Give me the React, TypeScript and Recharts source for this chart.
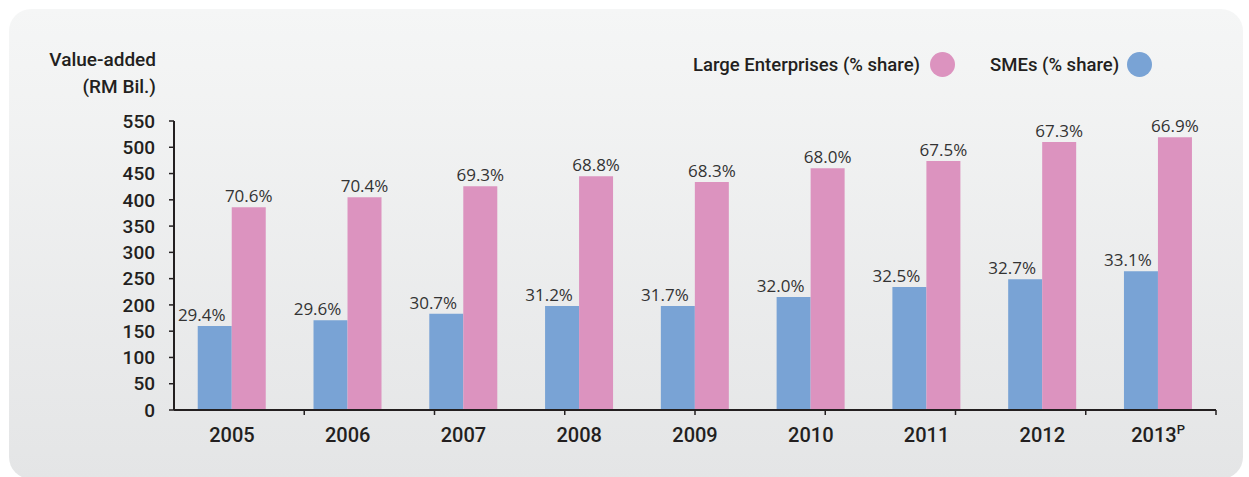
import React from 'react';
import { BarChart, Bar, XAxis, YAxis, LabelList } from 'recharts';

const years = ['2005', '2006', '2007', '2008', '2009', '2010', '2011', '2012', '2013'];
const provisionalYears = ['2013'];
const smeValues = [160, 171, 183, 198, 198, 215, 234, 249, 264];
const largeValues = [386, 405, 426, 445, 434, 460, 474, 510, 519];
const smeShares = [29.4, 29.6, 30.7, 31.2, 31.7, 32.0, 32.5, 32.7, 33.1];
const largeShares = [70.6, 70.4, 69.3, 68.8, 68.3, 68.0, 67.5, 67.3, 66.9];
const yTicks = [0, 50, 100, 150, 200, 250, 300, 350, 400, 450, 500, 550];
const axisTitle = ['Value-added', '(RM Bil.)'];
const legendLarge = 'Large Enterprises (% share)';
const legendSme = 'SMEs (% share)';

const data = years.map((y, i) => ({
  year: y,
  sme: smeValues[i],
  large: largeValues[i],
  smeShare: smeShares[i],
  largeShare: largeShares[i],
}));
const boundaryTicks = years.slice(1).map((_, i) => i + 1);

const BLUE = '#79a3d5';
const PINK = '#dc93bf';
const INK = '#231f20';
const AXIS_FONT = 'Roboto, "DejaVu Sans", sans-serif';
const LABEL_FONT = '"Open Sans", "Noto Sans", sans-serif';

const YearTick = (props: any) => {
  const { x, y, payload } = props;
  const v = String(payload.value);
  const sup = provisionalYears.includes(v);
  return (
    <text x={x} y={y} dy={11} textAnchor="middle" fill={INK} fontFamily={AXIS_FONT} fontWeight={500} fontSize={20}>
      <tspan>{v}</tspan>
      {sup && <tspan dy={-8} fontSize={13}>P</tspan>}
    </text>
  );
};

const makeLabel = (dx: number) => (props: any) => {
  const { x, y, width, value } = props;
  return (
    <text x={Number(x) + Number(width) / 2 + dx} y={Number(y) - 5} textAnchor="middle" fill="#333333" fontFamily={LABEL_FONT} fontSize={17}>
      {Number(value).toFixed(1) + '%'}
    </text>
  );
};

export default function App() {
  return (
    <div style={{ position: 'absolute', left: 0, top: 0, width: 1249, height: 477, background: '#ffffff', overflow: 'hidden' }}>
      <div style={{ position: 'absolute', left: 9, top: 9, width: 1234, height: 470, borderRadius: 22, background: 'linear-gradient(#f5f6f6, #e4e5e6)' }} />
      <div style={{ position: 'absolute', right: 1249 - 156, top: 46, textAlign: 'right', fontFamily: AXIS_FONT, fontWeight: 500, fontSize: 19, lineHeight: '27px', color: INK, whiteSpace: 'nowrap' }}>
        <div>{axisTitle[0]}</div>
        <div>{axisTitle[1]}</div>
      </div>
      <div style={{ position: 'absolute', left: 693, top: 52, display: 'flex', alignItems: 'center', fontFamily: AXIS_FONT, fontWeight: 500, fontSize: 18.5, color: INK, whiteSpace: 'nowrap' }}>
        <span>{legendLarge}</span>
        <span style={{ display: 'inline-block', width: 25, height: 25, borderRadius: '50%', background: PINK, marginLeft: 10 }} />
        <span style={{ marginLeft: 35 }}>{legendSme}</span>
        <span style={{ display: 'inline-block', width: 25, height: 25, borderRadius: '50%', background: BLUE, marginLeft: 8 }} />
      </div>
      <div style={{ position: 'absolute', left: 0, top: 0 }}>
        <BarChart width={1249} height={477} data={data} margin={{ top: 121, right: 33, left: 0, bottom: 36 }} barGap={0} barCategoryGap="20.5%">
          <XAxis
            xAxisId="bounds"
            type="number"
            domain={[0, years.length]}
            ticks={boundaryTicks}
            height={1}
            axisLine={{ stroke: INK, strokeWidth: 2 }}
            tickLine={{ stroke: INK, strokeWidth: 1.5 }}
            tickSize={5}
            tick={() => <g />}
          />
          <XAxis
            xAxisId="cat"
            dataKey="year"
            height={30}
            axisLine={false}
            tickLine={false}
            tickMargin={14}
            interval={0}
            tick={<YearTick />}
          />
          <YAxis
            width={174}
            domain={[0, 550]}
            ticks={yTicks}
            interval={0}
            axisLine={{ stroke: INK, strokeWidth: 2 }}
            tickLine={{ stroke: INK, strokeWidth: 1.5 }}
            tickSize={5}
            tickMargin={14}
            tick={{ fill: INK, fontFamily: AXIS_FONT, fontWeight: 500, fontSize: 19 }}
          />
          <Bar xAxisId="cat" dataKey="sme" fill={BLUE} isAnimationActive={false}>
            <LabelList dataKey="smeShare" content={makeLabel(-13)} />
          </Bar>
          <Bar xAxisId="cat" dataKey="large" fill={PINK} isAnimationActive={false}>
            <LabelList dataKey="largeShare" content={makeLabel(0)} />
          </Bar>
        </BarChart>
      </div>
    </div>
  );
}
